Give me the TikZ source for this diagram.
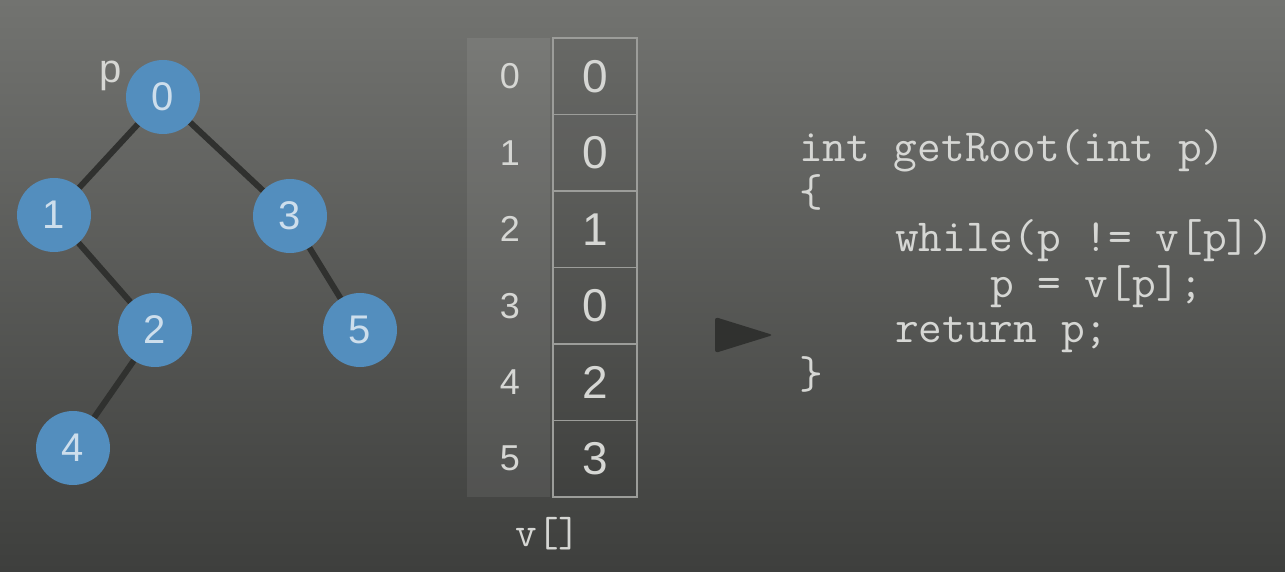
\documentclass[tikz,border=0pt]{standalone}
\usepackage{fontspec}
\setmainfont{Liberation Sans}
\usepackage{tikz}
\usetikzlibrary{positioning}

\definecolor{bgtop}{HTML}{727370}
\definecolor{bgmid}{HTML}{575855}
\definecolor{bgbot}{HTML}{3E3F3D}
\definecolor{nodeblue}{RGB}{83,142,190}
\definecolor{nodetext}{RGB}{205,222,236}
\definecolor{edgedark}{HTML}{30312F}
\definecolor{chalk}{HTML}{D6D7D4}
\definecolor{cellline}{HTML}{9C9D9A}

\begin{document}
\begin{tikzpicture}[
        x=1pt, y=-1pt,
        tnode/.style={circle, fill=nodeblue, text=nodetext, minimum size=74pt, inner sep=0pt, font=\fontsize{40}{40}\selectfont},
        edge/.style={line width=6pt, draw=edgedark},
        cell/.style={draw=cellline, line width=1.5pt, fill=black, fill opacity=0.06, draw opacity=1, text opacity=1, text=chalk, minimum width=84pt, minimum height=76.5pt, inner sep=0pt, font=\fontsize{46}{46}\selectfont},
        idx/.style={text=chalk, inner sep=0pt, font=\fontsize{36}{36}\selectfont},
        code/.style={anchor=base west, inner sep=0pt, text=chalk, font=\ttfamily\fontsize{46}{46}\selectfont}
    ]
        % background
        \useasboundingbox (0,0) rectangle (1285,571);
        \shade[top color=bgtop, middle color=bgmid, bottom color=bgbot] (0,0) rectangle (1285,571);

        % Tree
        \node[tnode] (n0) at (163,97) {0};
        \node[tnode] (n1) at (54,215) {1};
        \node[tnode] (n3) at (290,216) {3};
        \node[tnode] (n2) at (155,330) {2};
        \node[tnode] (n5) at (360,330) {5};
        \node[tnode] (n4) at (73,448) {4};
        \node[anchor=base, inner sep=0pt, text=chalk, font=\fontsize{40}{40}\selectfont] (plabel) at (111,82) {p};

        \draw[edge] (n0) -- (n1);
        \draw[edge] (n0) -- (n3);
        \draw[edge] (n1) -- (n2);
        \draw[edge] (n3) -- (n5);
        \draw[edge] (n2) -- (n4);

        % Array v[]
        \fill[white, opacity=0.07] (467,38) rectangle (550,497);
        \node[cell] (v0) at (595,76.25) {0};
        \node[cell] (v1) at (595,152.75) {0};
        \node[cell] (v2) at (595,229.25) {1};
        \node[cell] (v3) at (595,305.75) {0};
        \node[cell] (v4) at (595,382.25) {2};
        \node[cell] (v5) at (595,458.75) {3};

        \node[idx] (i0) at (510,76.25) {0};
        \node[idx] (i1) at (510,152.75) {1};
        \node[idx] (i2) at (510,229.25) {2};
        \node[idx] (i3) at (510,305.75) {3};
        \node[idx] (i4) at (510,382.25) {4};
        \node[idx] (i5) at (510,458.75) {5};

        \node[anchor=base, inner sep=0pt, text=chalk, font=\ttfamily\fontsize{42}{42}\selectfont] (vlabel) at (548,546) {v[]};

        % Pointer
        \fill[edgedark, rounded corners=3pt] (715,317) -- (773,335) -- (715,353) -- cycle;

        % Code
        \node[code] (c1) at (799,161) {int getRoot(int p)};
        \node[code] (c2) at (799,206.4) {\{};
        \node[code] (c3) at (895,251.8) {while(p != v[p])};
        \node[code] (c4) at (990,297.2) {p = v[p];};
        \node[code] (c5) at (895,342.6) {return p;};
        \node[code] (c6) at (799,388) {\}};
    \end{tikzpicture}
\end{document}
